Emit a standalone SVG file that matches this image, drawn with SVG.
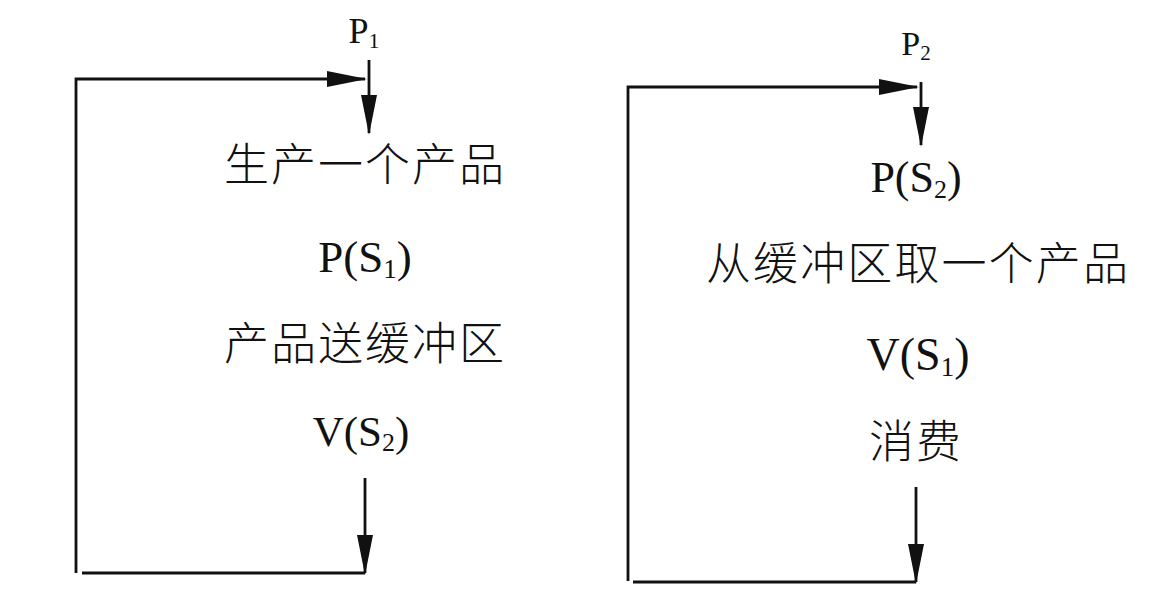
<svg xmlns="http://www.w3.org/2000/svg" width="1153" height="615" viewBox="0 0 1153 615">
<style>
.ln{fill:none;stroke:#111;stroke-width:2.8}
.lat{font-family:"Liberation Serif","Times New Roman",serif;fill:#111;text-anchor:middle}
.cjk{font-family:"Noto Sans CJK SC",sans-serif;fill:#111;text-anchor:middle;font-size:45px;font-weight:300}
</style>
<defs>
<marker id="ah" markerUnits="userSpaceOnUse" markerWidth="40" markerHeight="16" refX="38" refY="8" orient="auto" viewBox="0 0 40 16">
<path d="M0,0 L40,8 L0,16 Z" fill="#111"/>
</marker>
</defs>
<rect width="1153" height="615" fill="#fff"/>
<g id="connectors">
<path class="ln" d="M76,573 L76,79 L365,79" marker-end="url(#ah)"/>
<path class="ln" d="M369,60 L369,133" marker-end="url(#ah)"/>
<path class="ln" d="M365,478 L365,573" marker-end="url(#ah)"/>
<path class="ln" d="M82,573 L365,573"/>
<path class="ln" d="M628,581 L628,87 L917,87" marker-end="url(#ah)"/>
<path class="ln" d="M921,82 L921,145" marker-end="url(#ah)"/>
<path class="ln" d="M916,487 L916,582" marker-end="url(#ah)"/>
<path class="ln" d="M633,582 L916,582"/>
</g>
<g id="p1"><text class="lat" x="364" y="43" font-size="36">P<tspan font-size="22" dy="5">1</tspan></text></g>
<g id="n1"><text class="cjk" x="364" y="181" textLength="280" lengthAdjust="spacing">生产一个产品</text></g>
<g id="n2"><text class="lat" x="365" y="272" font-size="45">P(S<tspan font-size="27" dy="6">1</tspan><tspan dy="-6">)</tspan></text></g>
<g id="n3"><text class="cjk" x="364" y="360" textLength="280" lengthAdjust="spacing">产品送缓冲区</text></g>
<g id="n4"><text class="lat" x="361" y="446" font-size="43">V(S<tspan font-size="26" dy="5">2</tspan><tspan dy="-5">)</tspan></text></g>
<g id="p2"><text class="lat" x="916" y="55" font-size="34">P<tspan font-size="21" dy="5">2</tspan></text></g>
<g id="m1"><text class="lat" x="916" y="192" font-size="44">P(S<tspan font-size="26" dy="6">2</tspan><tspan dy="-6">)</tspan></text></g>
<g id="m2"><text class="cjk" x="917" y="280" textLength="422" lengthAdjust="spacing">从缓冲区取一个产品</text></g>
<g id="m3"><text class="lat" x="918" y="370" font-size="46">V(S<tspan font-size="27" dy="6">1</tspan><tspan dy="-6">)</tspan></text></g>
<g id="m4"><text class="cjk" x="915" y="458" textLength="92" lengthAdjust="spacing">消费</text></g>
</svg>
